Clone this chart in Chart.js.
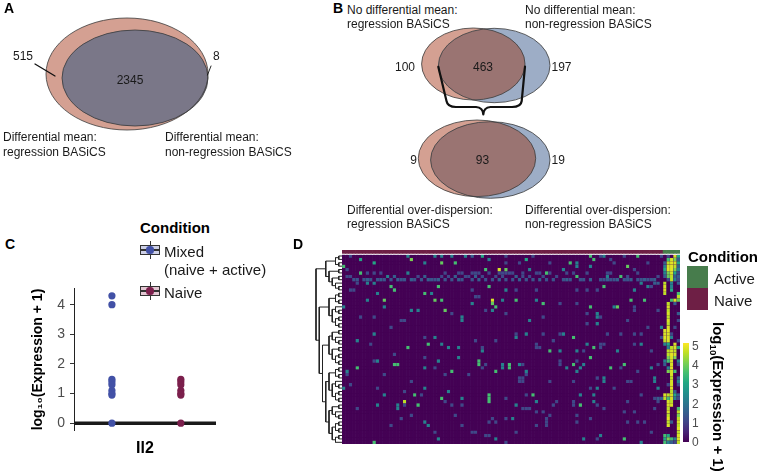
<!DOCTYPE html>
<html><head><meta charset="utf-8">
<script src="https://cdn.jsdelivr.net/npm/chart.js@4.4.1/dist/chart.umd.min.js"></script>
<style>
html,body{margin:0;padding:0;background:#fff;}
#root{position:relative;width:758px;height:471px;overflow:hidden;font-family:'Liberation Sans',Arial,Helvetica,sans-serif;color:#1a1a1a;}
canvas{position:absolute;}
.t{position:absolute;white-space:nowrap;line-height:1;}
.t sub{font-size:65%;vertical-align:-0.25em;line-height:0;}
</style></head><body><div id="root"></div>
<script>
// ---------------- DATA ----------------
// Panel A: Venn counts [only regression, both, only non-regression]
const vennA_counts = [515, 2345, 8];
const vennA_titles = [['Differential mean:', 'regression BASiCS'], ['Differential mean:', 'non-regression BASiCS']];
// Panel B
const vennB1_counts = [100, 463, 197];
const vennB2_counts = [9, 93, 19];
const vennB1_titles = [['No differential mean:', 'regression BASiCS'], ['No differential mean:', 'non-regression BASiCS']];
const vennB2_titles = [['Differential over-dispersion:', 'regression BASiCS'], ['Differential over-dispersion:', 'non-regression BASiCS']];
// Panel C
const c_groups = ['Mixed', 'Naive'];
const c_groupLabels = [['Mixed', '(naive + active)'], ['Naive']];
const c_mixed = [4.3, 4.0, 1.48, 1.4, 1.3, 1.1, 1.0, 0.95, 0];
const c_naive = [1.48, 1.4, 1.3, 1.1, 1.0, 0.95, 0];
const c_median = [0, 0];
const c_yticks = [0, 1, 2, 3, 4];
const c_gene = 'Il2';
// Panel D
const d_nCols = 100, d_nRows = 56, d_nNaive = 95;
const d_conditions = ['Active', 'Naive'];
const d_cbTicks = [0, 1, 2, 3, 4, 5];
const heatCells = [
[0,2,1.1],[0,19,2.2],[0,27,2.2],[0,29,2.2],[0,32,2.2],[0,36,2.2],[0,38,1.5],[0,41,3],[0,48,1.1],[0,56,1.1],[0,73,3.5],[0,76,1.1],[0,77,2.2],[0,83,1.1],[0,87,3.5],[0,94,1.1],
[1,5,3],[1,20,4],[1,43,2.2],[1,54,3],[1,74,3.5],[1,79,1.1],
[2,9,3],[2,24,2.2],[2,29,3.8],[2,33,3.5],[2,48,1.1],[2,52,1.1],[2,61,1.1],[2,67,3.5],[2,69,2.2],[2,80,1.1],[2,90,1.1],
[3,0,3.5],[3,69,2.2],[3,73,2.2],[3,84,3.8],
[4,1,1.1],[4,42,3.5],[4,46,4.7],[4,48,3.8],[4,55,2.2],[4,65,2.2],[4,86,1.1],
[5,5,3.5],[5,7,1.1],[5,9,1.1],[5,11,1.1],[5,19,2.2],[5,30,1.1],[5,34,1.1],[5,35,1.1],[5,38,1.1],[5,39,1.1],[5,40,1.1],[5,43,1.1],[5,46,1.1],[5,47,1.1],[5,48,1.1],[5,49,1.1],[5,50,1.1],[5,53,1.1],[5,57,1.1],[5,58,1.1],[5,60,3.5],[5,61,1.1],[5,66,1.1],[5,68,1.1],[5,72,1.1],[5,78,1.1],[5,79,1.1],[5,87,1.1],
[6,1,1.1],[6,2,1.1],[6,13,2.2],[6,15,1.5],[6,22,1.1],[6,24,1.5],[6,29,1.1],[6,31,1.1],[6,33,1.5],[6,36,1.1],[6,37,1.1],[6,39,1.5],[6,41,1.1],[6,45,1.1],[6,47,1.1],[6,51,1.5],[6,53,1.1],[6,55,1.1],[6,59,1.1],[6,63,1.1],[6,69,3.5],[6,78,2.2],[6,82,3.5],[6,84,1.1],[6,93,1.1],
[7,3,1.3],[7,4,1.3],[7,6,1.3],[7,7,1.5],[7,8,1.3],[7,10,1.3],[7,11,1.5],[7,12,1.3],[7,14,1.3],[7,16,1.5],[7,17,1.3],[7,18,1.3],[7,20,1.5],[7,21,1.3],[7,23,1.3],[7,25,1.5],[7,26,1.3],[7,27,1.3],[7,28,1.5],[7,30,1.3],[7,32,1.3],[7,34,1.5],[7,35,1.3],[7,38,1.3],[7,40,1.5],[7,42,1.3],[7,44,1.3],[7,46,1.5],[7,48,1.3],[7,50,1.3],[7,52,1.5],[7,54,1.3],[7,56,1.3],[7,58,1.5],[7,60,1.3],[7,62,1.3],[7,65,1.3],[7,66,1.5],[7,67,1.3],[7,70,1.3],[7,71,1.3],[7,73,1.5],[7,76,1.3],[7,77,1.3],[7,78,1.5],[7,79,1.3],[7,80,1.3],[7,81,1.5],[7,83,1.3],[7,84,1.3],[7,85,1.5],[7,87,1.3],[7,88,1.3],[7,89,1.5],[7,90,1.3],[7,91,1.3],[7,92,1.5],
[8,4,1.1],[8,7,2.2],[8,9,2.2],[8,88,2.2],[8,92,1.5],[8,93,1.5],
[9,14,3.5],[9,28,3.5],[9,43,3.5],[9,77,3.5],[9,90,2.2],[9,91,1.1],
[10,2,1.1],[10,3,1.1],[10,15,3.5],[10,38,1.1],[10,48,2.2],[10,51,1.1],[10,57,1.1],[10,69,1.1],[10,72,1.1],[10,75,1.1],[10,86,2.2],
[11,10,2.2],[11,24,3.5],[11,26,2.2],
[12,39,1.1],[12,40,1.1],
[13,7,2.2],[13,12,3.8],[13,27,3.8],[13,29,3.5],[13,44,4.7],[13,47,2.2],[13,51,3.5],[13,57,2.2],[13,85,3.5],[13,89,3.5],
[14,38,2.2],[14,44,3.8],[14,59,3.5],[14,64,1.1],[14,69,1.1],
[15,0,2.2],[15,12,2.2],[15,45,3.5],[15,73,3.5],[15,80,2.2],[15,81,3.8],[15,86,1.1],
[16,20,2.2],[16,22,2.2],[16,30,3.8],[16,42,1.1],[16,44,2.2],[16,86,1.1],[16,93,1.1],
[17,32,1.1],[17,48,1.1],[17,72,1.1],[17,75,2.2],
[18,5,1.1],[18,9,1.1],[18,35,2.2],[18,59,1.1],[18,75,2.2],[18,76,1.1],
[19,17,1.1],[19,18,1.1],[19,35,2.2],[19,55,2.2],[19,84,1.1],
[20,72,1.1],[20,75,2.2],
[21,14,1.1],[21,90,1.1],[21,94,2.2],
[23,9,2.2],[23,51,1.1],[23,54,2.2],[23,59,1.1],[23,64,1.1],[23,65,2.2],[23,78,1.1],[23,82,1.1],[23,86,1.1],[23,88,1.1],
[24,24,1.1],[24,27,2.2],[24,51,2.2],[24,68,3.5],[24,94,1.1],
[25,4,2.2],[25,39,1.1],[25,45,1.1],[25,62,1.1],
[26,8,1.1],[26,25,3.5],[26,29,2.2],[26,57,1.1],[26,72,2.2],[26,76,1.1],[26,77,1.1],[26,86,1.1],[26,88,2.2],
[27,19,3.5],[27,31,2.2],[27,34,2.2],[27,41,1.1],[27,57,1.1],[27,58,1.1],[27,74,3.5],[27,76,1.1],
[28,41,2.2],[28,61,3.5],[28,64,2.2],[28,69,2.2],[28,71,1.1],[28,81,2.2],[28,91,1.1],
[29,15,1.1],
[30,24,1.1],[30,34,2.2],[30,73,3.5],
[31,9,1.1],[31,10,2.2],[31,28,2.2],[31,40,3.5],[31,64,1.1],[31,69,1.1],
[32,15,3.5],[32,16,3.5],[32,40,3.5],[32,42,1.1],[32,47,2.2],[32,49,3.5],[32,52,2.2],[32,53,1.1],[32,64,1.1],[32,68,3.5],[32,71,2.2],[32,83,3.5],[32,93,1.1],
[33,4,3.5],[33,24,2.2],[33,27,1.1],[33,41,1.1],[33,47,2.2],[33,49,3.5],[33,66,2.2],[33,70,2.2],[33,79,3.5],[33,82,1.1],[33,91,2.2],
[34,1,2.2],[34,32,3.5],[34,45,3.5],[34,54,2.2],[34,69,2.2],[34,87,1.1],
[35,1,1.1],[35,12,1.1],[35,30,1.1],[35,37,1.1],[35,54,1.1],
[36,52,1.1],[36,53,1.1],[36,75,1.1],[36,77,2.2],[36,92,2.2],
[37,20,1.1],[37,52,1.1],[37,53,1.1],[37,61,1.1],[37,68,1.1],[37,77,2.2],[37,84,1.1],[37,85,1.1],[37,92,2.2],
[38,2,1.1],
[39,0,2.2],[39,10,1.1],[39,24,2.2],[39,73,1.1],[39,75,2.2],[39,80,1.1],[39,93,2.2],
[40,18,1.1],[40,31,2.2],
[41,12,2.2],[41,21,3.5],[41,23,1.1],[41,43,3.5],[41,54,1.1],[41,56,3.5],[41,70,2.2],[41,74,2.2],[41,88,1.1],
[42,29,3.5],[42,35,2.2],[42,43,3.5],[42,48,1.1],[42,92,1.1],[42,93,1.5],[42,94,1.5],
[43,18,4.5],[43,30,1.1],[43,43,3.5],[43,57,2.2],[43,63,1.1],[43,68,1.1],[43,74,2.2],[43,84,1.1],[43,93,1.1],
[44,10,2.2],[44,16,2.2],[44,18,1.1],[44,22,3.5],[44,32,1.1],[44,35,1.1],[44,51,2.2],[44,62,1.1],[44,68,1.1],[44,70,3.5],[44,75,1.1],
[45,4,1.1],[45,16,2.2],[45,53,1.1],[45,54,1.1],[45,55,1.1],[45,77,1.1],[45,92,1.1],
[46,57,1.1],[46,59,1.1],[46,83,1.1],[46,86,1.1],
[47,20,1.1],[47,33,1.1],[47,61,1.1],[47,69,1.1],
[48,17,1.1],[48,44,1.1],[48,48,1.1],[48,50,2.2],[48,60,1.1],[48,73,1.1],
[49,24,2.2],[49,43,1.1],[49,45,1.1],[49,60,1.1],[49,69,1.1],[49,84,1.1],[49,87,1.1],[49,89,1.1],
[50,14,1.1],[50,25,2.2],[50,35,1.1],[50,57,1.1],[50,60,1.1],
[52,27,1.1],[52,38,1.1],[52,39,1.1],[52,51,1.1],[52,91,1.1],
[53,42,1.1],[53,43,1.1],[53,76,2.2],
[54,28,2.2],[54,45,2.2],[54,71,2.2],[54,75,1.1],[54,83,3.5],
[55,9,3.5],[55,48,1.1],[55,88,2.2],
// active columns
[0,96,1.1],[0,98,4.7],[0,99,3],
[1,96,3.5],[1,97,4.7],[1,98,4],[1,99,1.5],
[2,95,1.5],[2,96,4.5],[2,97,4.8],[2,98,4.7],[2,99,3],
[3,95,2.2],[3,96,4.7],[3,97,4.8],[3,98,4.5],[3,99,1.5],
[4,95,3],[4,96,4.8],[4,97,4.8],[4,98,4],[4,99,2.2],
[5,95,2.2],[5,96,4],[5,97,4.7],[5,98,3],[5,99,1.1],
[6,95,1.5],[6,96,3.8],[6,97,4.5],[6,98,1.5],[6,99,1.5],
[7,96,1.1],[7,97,4.5],[7,98,2.2],[7,99,1.1],
[8,95,4.5],[8,97,2.2],[8,99,1.5],
[9,95,4.7],[9,97,2.2],
[10,95,4.7],[10,97,3],
[11,95,4.5],[11,99,3.5],
[12,99,4.5],
[13,97,3.5],[13,98,4.7],[13,99,3.8],
[14,96,4.5],[14,98,1.5],
[15,96,4.7],[16,96,4.5],[17,96,4.7],[17,99,1.5],[18,96,4.5],[19,96,4.7],[19,99,1.1],[20,96,4.5],[21,96,4.7],[21,98,1.1],
[22,95,4.7],[22,96,4.8],[23,95,4.7],[23,96,4.7],[23,97,1.1],[24,95,4.8],[24,96,4.7],[24,97,2.2],[25,95,4.5],[25,96,4.7],[25,99,1.1],
[26,95,2.2],[26,96,3],[26,98,4.7],[27,96,2.2],[27,97,4.5],[27,98,4.7],[27,99,3],
[28,96,4.5],[28,97,4.7],[28,98,4.5],
[29,96,4.5],[29,97,4.8],[29,98,4.7],
[30,96,4],[30,97,4.7],[30,98,4],
[31,95,2.2],[31,96,3.5],[31,97,4.7],[31,99,2.2],
[32,95,1.5],[32,97,4.7],[32,99,1.1],
[33,96,2.2],[33,97,4.8],
[34,96,4],[34,97,4.7],[34,98,3.5],
[35,97,4.7],[36,97,4.5],[36,99,1.5],[37,97,4.7],[37,99,2.2],[38,96,1.1],[38,97,4.7],[38,99,1.1],[39,97,4.8],[40,97,4.5],[40,98,1.5],
[41,95,4.7],[41,96,4.5],[41,97,4.7],[41,98,3],[41,99,1.5],
[42,95,4.5],[42,96,3.5],[42,97,4.7],[42,98,2.2],[42,99,1.1],
[43,96,4.7],[43,97,4.5],[44,96,4.7],[44,97,4.7],[45,96,4.5],[45,99,3.5],[46,96,4.7],[46,99,4.5],[47,96,4.5],[47,99,4],[48,96,4.8],[48,99,4.5],[49,96,4.5],[49,97,1.5],[49,99,4.7],[50,96,4.7],[50,99,4.5],[51,99,4.8],[52,99,4.5],
[53,95,3.5],[53,96,3],[53,99,4.7],[54,95,3],[54,96,4],[54,97,3.5],[54,98,2.2],[54,99,4.7],[55,95,3.5],[55,96,2.2],[55,97,1.5],[55,98,1.1],[55,99,4.5]
];
// row clustering (leaf indices = heatmap rows)
const dendroTree = [
 [[[0,1],[2,3]],[[4,5],[[6,7],[8,[9,10]]]]],
 [
  [[[11,12],[13,14]],[[15,[16,17]],[[18,19],[20,21]]]],
  [
   [[[22,23],[24,[25,26]]],[[27,28],[[29,30],[31,32]]]],
   [
    [[[33,34],[35,36]],[[37,[38,39]],[[40,41],[42,43]]]],
    [[[44,45],[46,[47,48]]],[[[49,50],[51,52]],[[53,54],55]]]
   ]
  ]
 ]
];

// ---------------- STYLE / LAYOUT ----------------
const FONT = "'Liberation Sans', Arial, Helvetica, sans-serif";
Chart.defaults.font.family = FONT;
Chart.defaults.color = '#1a1a1a';
const COL = {
  pink: '#d4a092', grey: '#7a7788', blue: '#9dadc6', overlapB: '#9a7472', outline: '#3b3b3b',
  mixed: '#4251a6', naive: '#7b1f4c', active: '#477c4c', naiveD: '#6e1f45'
};
const root = document.getElementById('root');
function mkCanvas(l, t, w, h) {
  const c = document.createElement('canvas');
  c.width = w; c.height = h;
  c.style.left = l + 'px'; c.style.top = t + 'px'; c.style.width = w + 'px'; c.style.height = h + 'px';
  root.appendChild(c); return c;
}
function txt(s, x, cy, o = {}) {
  const d = document.createElement('div');
  d.className = 't'; d.innerHTML = s;
  d.style.left = x + 'px'; d.style.top = cy + 'px';
  d.style.fontSize = (o.size || 12) + 'px';
  if (o.bold) d.style.fontWeight = 'bold';
  d.style.color = o.color || '#1a1a1a';
  const tx = o.align === 'center' ? '-50%' : o.align === 'right' ? '-100%' : '0';
  d.style.transform = `translate(${tx},-50%)`;
  root.appendChild(d); return d;
}
function box(l, t, w, h, css) {
  const d = document.createElement('div');
  d.style.position = 'absolute'; d.style.left = l + 'px'; d.style.top = t + 'px';
  d.style.width = w + 'px'; d.style.height = h + 'px'; d.style.boxSizing = 'border-box';
  Object.assign(d.style, css || {}); root.appendChild(d); return d;
}
const baseOpts = {responsive: false, animation: false, devicePixelRatio: 1, events: []};
const noPlug = {legend: {display: false}, tooltip: {enabled: false}};

// ---------------- VENN (A, B) ----------------
function vennPlugin(cfg) {
  return {
    id: 'venn',
    afterDatasetsDraw(chart) {
      const ctx = chart.ctx, xs = chart.scales.x, ys = chart.scales.y;
      const px = v => xs.getPixelForValue(v), py = v => ys.getPixelForValue(v);
      const path = e => {
        const cx = px(e.cx), cy = py(e.cy);
        ctx.beginPath();
        ctx.ellipse(cx, cy, Math.abs(px(e.cx + e.rx) - cx), Math.abs(py(e.cy + e.ry) - cy), 0, 0, Math.PI * 2);
      };
      ctx.save();
      cfg.pairs.forEach(p => {
        path(p.a); ctx.fillStyle = p.colA; ctx.fill();
        path(p.b); ctx.fillStyle = p.colB; ctx.fill();
        ctx.save(); path(p.a); ctx.clip(); path(p.b); ctx.fillStyle = p.colAB; ctx.fill(); ctx.restore();
        ctx.lineWidth = 0.8; ctx.strokeStyle = COL.outline;
        path(p.a); ctx.stroke(); path(p.b); ctx.stroke();
      });
      (cfg.paths || []).forEach(p => {
        ctx.beginPath();
        p.cmds.forEach(c => {
          if (c[0] === 'M') ctx.moveTo(px(c[1]), py(c[2]));
          else if (c[0] === 'L') ctx.lineTo(px(c[1]), py(c[2]));
          else if (c[0] === 'Q') ctx.quadraticCurveTo(px(c[1]), py(c[2]), px(c[3]), py(c[4]));
        });
        ctx.lineWidth = p.width; ctx.strokeStyle = '#111'; ctx.lineJoin = 'round'; ctx.lineCap = 'round';
        ctx.stroke();
      });
      ctx.restore();
    }
  };
}
function vennChart(l, t, w, h, cfg) {
  new Chart(mkCanvas(l, t, w, h), {
    type: 'scatter',
    data: {datasets: [{data: []}]},
    options: Object.assign({}, baseOpts, {
      layout: {padding: 0},
      plugins: noPlug,
      scales: {
        x: {type: 'linear', display: false, min: l, max: l + w},
        y: {type: 'linear', display: false, min: t, max: t + h, reverse: true}
      }
    }),
    plugins: [vennPlugin(cfg)]
  });
}
// Panel A
vennChart(0, 0, 240, 135, {
  pairs: [{a: {cx: 127, cy: 74, rx: 81, ry: 56}, b: {cx: 135, cy: 78, rx: 73, ry: 48}, colA: COL.pink, colB: COL.grey, colAB: COL.grey}],
  paths: [{cmds: [['M', 35, 64], ['L', 55, 76]], width: 1.3}, {cmds: [['M', 211, 66], ['L', 207.5, 75]], width: 0.9}]
});
txt('A', 4, 8, {size: 14, bold: true, color: '#000'});
txt(String(vennA_counts[0]), 13, 56);
txt(String(vennA_counts[1]), 130, 80, {align: 'center'});
txt(String(vennA_counts[2]), 213, 56);
txt(vennA_titles[0][0], 3, 137); txt(vennA_titles[0][1], 3, 152);
txt(vennA_titles[1][0], 165, 137); txt(vennA_titles[1][1], 165, 152);

// Panel B
vennChart(405, 20, 160, 185, {
  pairs: [
    {a: {cx: 473.3, cy: 64, rx: 51.7, ry: 36}, b: {cx: 494.2, cy: 65.5, rx: 55.8, ry: 37.2}, colA: COL.pink, colB: COL.blue, colAB: COL.overlapB},
    {a: {cx: 477, cy: 158.3, rx: 58.7, ry: 38.3}, b: {cx: 490.3, cy: 160, rx: 59.7, ry: 38.3}, colA: COL.pink, colB: COL.blue, colAB: COL.overlapB}
  ],
  paths: [
    {cmds: [['M', 438.3, 66.7], ['L', 446.5, 101], ['Q', 447.5, 107, 456, 107], ['L', 476, 107], ['Q', 483, 107.5, 483.3, 114.5],
            ['Q', 483.6, 107.5, 490.5, 107], ['L', 512, 107], ['Q', 521, 107, 521.7, 101], ['L', 525, 66.7]], width: 2.2}
  ]
});
txt('B', 333, 8, {size: 14, bold: true, color: '#000'});
txt(vennB1_titles[0][0], 347, 10); txt(vennB1_titles[0][1], 347, 24);
txt(vennB1_titles[1][0], 525, 10); txt(vennB1_titles[1][1], 525, 24);
txt(String(vennB1_counts[0]), 415, 67, {align: 'right'});
txt(String(vennB1_counts[1]), 483, 67, {align: 'center'});
txt(String(vennB1_counts[2]), 551.5, 67);
txt(String(vennB2_counts[0]), 417, 160, {align: 'right'});
txt(String(vennB2_counts[1]), 482.5, 160, {align: 'center'});
txt(String(vennB2_counts[2]), 551.5, 160);
txt(vennB2_titles[0][0], 347, 210); txt(vennB2_titles[0][1], 347, 224);
txt(vennB2_titles[1][0], 525, 210); txt(vennB2_titles[1][1], 525, 224);

// ---------------- PANEL C ----------------
const cXmin = 0.45, cXmax = 2.51;
new Chart(mkCanvas(0, 275, 225, 195), {
  type: 'scatter',
  data: {datasets: [
    {data: c_mixed.map(v => ({x: 1, y: v})), backgroundColor: COL.mixed, borderColor: COL.mixed, pointRadius: 3.6, borderWidth: 0, order: 0},
    {data: c_naive.map(v => ({x: 2, y: v})), backgroundColor: COL.naive, borderColor: COL.naive, pointRadius: 3.6, borderWidth: 0, order: 0},
    {data: [{x: cXmin, y: c_median[0]}, {x: cXmax, y: c_median[1]}], showLine: true, borderColor: '#1a1a1a', borderWidth: 3.5, pointRadius: 0, order: 2}
  ]},
  options: Object.assign({}, baseOpts, {
    layout: {padding: {left: 26, top: 9, right: 9, bottom: 0}},
    plugins: noPlug,
    scales: {
      x: {type: 'linear', min: cXmin, max: cXmax,
          grid: {display: false}, border: {display: false}, ticks: {display: false},
          title: {display: true, text: c_gene, font: {size: 16, weight: 'bold'}, color: '#000', padding: {top: 0, bottom: 12}},
          afterFit: s => { s.height = 39.4; }},
      y: {type: 'linear', min: -0.25, max: 4.55,
          afterBuildTicks: s => { s.ticks = c_yticks.map(v => ({value: v})); },
          ticks: {color: '#4d4d4d', font: {size: 14}, padding: 5},
          grid: {display: true, drawOnChartArea: false, drawTicks: true, tickLength: 4, color: '#333', lineWidth: 1},
          border: {display: true, color: '#222', width: 1},
          title: {display: true, text: 'log\u2081\u2080(Expression + 1)', font: {size: 14, weight: 'bold'}, color: '#000', padding: {top: 4, bottom: 4}},
          afterFit: s => { s.width = 48; }}
    }
  })
});
txt('C', 5, 244, {size: 14, bold: true, color: '#000'});
txt('Condition', 140, 227, {size: 15, bold: true, color: '#000'});
function cKey(cy, fill, dot) {
  box(149.5, cy - 9, 1, 18, {background: '#333'});
  box(140, cy - 5, 20, 10, {background: fill, border: '1.2px solid #333'});
  box(140, cy - 0.6, 20, 1.2, {background: '#333'});
  box(146.4, cy - 3.6, 7.2, 7.2, {background: dot, borderRadius: '50%'});
}
cKey(250, '#cdd0e6', COL.mixed);
cKey(291, '#e3c7d2', COL.naive);
txt(c_groupLabels[0][0], 164, 251, {size: 15});
txt(c_groupLabels[0][1], 164, 269, {size: 15});
txt(c_groupLabels[1][0], 164, 292, {size: 15});

// ---------------- PANEL D ----------------
const VIR = ['#440154','#482475','#414487','#355f8d','#2a788e','#21918c','#22a884','#44bf70','#7ad151','#bddf26','#fde725'];
function hex2rgb(h) { return [1, 3, 5].map(i => parseInt(h.substr(i, 2), 16)); }
function viridis(v) {
  const t = Math.max(0, Math.min(1, v / 5)) * (VIR.length - 1);
  const i = Math.min(VIR.length - 2, Math.floor(t)), f = t - i;
  const a = hex2rgb(VIR[i]), b = hex2rgb(VIR[i + 1]);
  return 'rgb(' + a.map((c, k) => Math.round(c + (b[k] - c) * f)).join(',') + ')';
}
const matrix = Array.from({length: d_nRows}, () => new Array(d_nCols).fill(0));
heatCells.forEach(([r, c, v]) => { matrix[r][c] = v; });
const colLabels = Array.from({length: d_nCols}, (_, i) => 'cell' + (i + 1));
const annH = 1.0, gapH = 0.3;
const hmSets = [];
hmSets.push({data: colLabels.map(() => annH), backgroundColor: colLabels.map((_, i) => i < d_nNaive ? COL.naiveD : COL.active)});
hmSets.push({data: colLabels.map(() => gapH), backgroundColor: '#ffffff'});
matrix.forEach(row => hmSets.push({data: row.map(() => 1), backgroundColor: row.map(viridis),
  borderColor: 'rgba(120,90,150,0.18)', borderWidth: {top: 0, bottom: 0, left: 0.5, right: 0}}));
hmSets.forEach(d => { d.barPercentage = 1; d.categoryPercentage = 1; if (d.borderWidth === undefined) d.borderWidth = 0; });
const hmBg = {
  id: 'hmBg',
  beforeDatasetsDraw(chart) {
    const {ctx, chartArea: a, scales: {y}} = chart;
    ctx.save(); ctx.fillStyle = viridis(0);
    const top = y.getPixelForValue(annH + gapH);
    ctx.fillRect(a.left, top, a.right - a.left, a.bottom - top);
    ctx.restore();
  }
};
new Chart(mkCanvas(300, 240, 390, 215), {
  type: 'bar',
  data: {labels: colLabels, datasets: hmSets},
  options: Object.assign({}, baseOpts, {
    layout: {padding: {left: 42, top: 10, right: 10, bottom: 11}},
    plugins: noPlug,
    scales: {
      x: {stacked: true, display: false},
      y: {stacked: true, display: false, min: 0, max: annH + gapH + d_nRows, reverse: true}
    }
  }),
  plugins: [hmBg]
});
// dendrogram
const segs = [];
function layoutTree(node) {
  if (typeof node === 'number') return {y: node + 0.5, h: 0};
  const a = layoutTree(node[0]), b = layoutTree(node[1]);
  const h = Math.max(a.h, b.h) + 1;
  segs.push([{x: a.h, y: a.y}, {x: h, y: a.y}, {x: h, y: b.y}, {x: b.h, y: b.y}]);
  return {y: (a.y + b.y) / 2, h};
}
const rootNode = layoutTree(dendroTree);
new Chart(mkCanvas(314, 249, 30, 197), {
  type: 'scatter',
  data: {datasets: segs.map(s => ({data: s, showLine: true, borderColor: '#222', borderWidth: 1, pointRadius: 0, clip: false}))},
  options: Object.assign({}, baseOpts, {
    layout: {padding: {left: 2, right: 2, top: 5.3, bottom: 2}},
    plugins: noPlug,
    scales: {
      x: {type: 'linear', display: false, min: 0, max: rootNode.h, reverse: true},
      y: {type: 'linear', display: false, min: 0, max: d_nRows, reverse: true}
    }
  })
});
txt('D', 293, 244, {size: 14, bold: true, color: '#000'});
txt('Condition', 688, 256, {size: 15, bold: true, color: '#000'});
box(687, 266, 21, 22, {background: COL.active});
box(687, 288, 21, 22, {background: COL.naiveD});
txt(d_conditions[0], 714, 278, {size: 15});
txt(d_conditions[1], 714, 300, {size: 15});
box(683, 343, 5.5, 99, {background: 'linear-gradient(to top,' + VIR.join(',') + ')'});
d_cbTicks.forEach(v => txt(String(v), 692, 442 - v * 19.2, {size: 12, color: '#4d4d4d'}));
const cbt = txt('log<sub>10</sub>(Expression + 1)', 718, 322, {size: 15, bold: true, color: '#000'});
cbt.style.transformOrigin = '0 0';
cbt.style.transform = 'rotate(90deg) translate(0,-50%)';
</script></body></html>
